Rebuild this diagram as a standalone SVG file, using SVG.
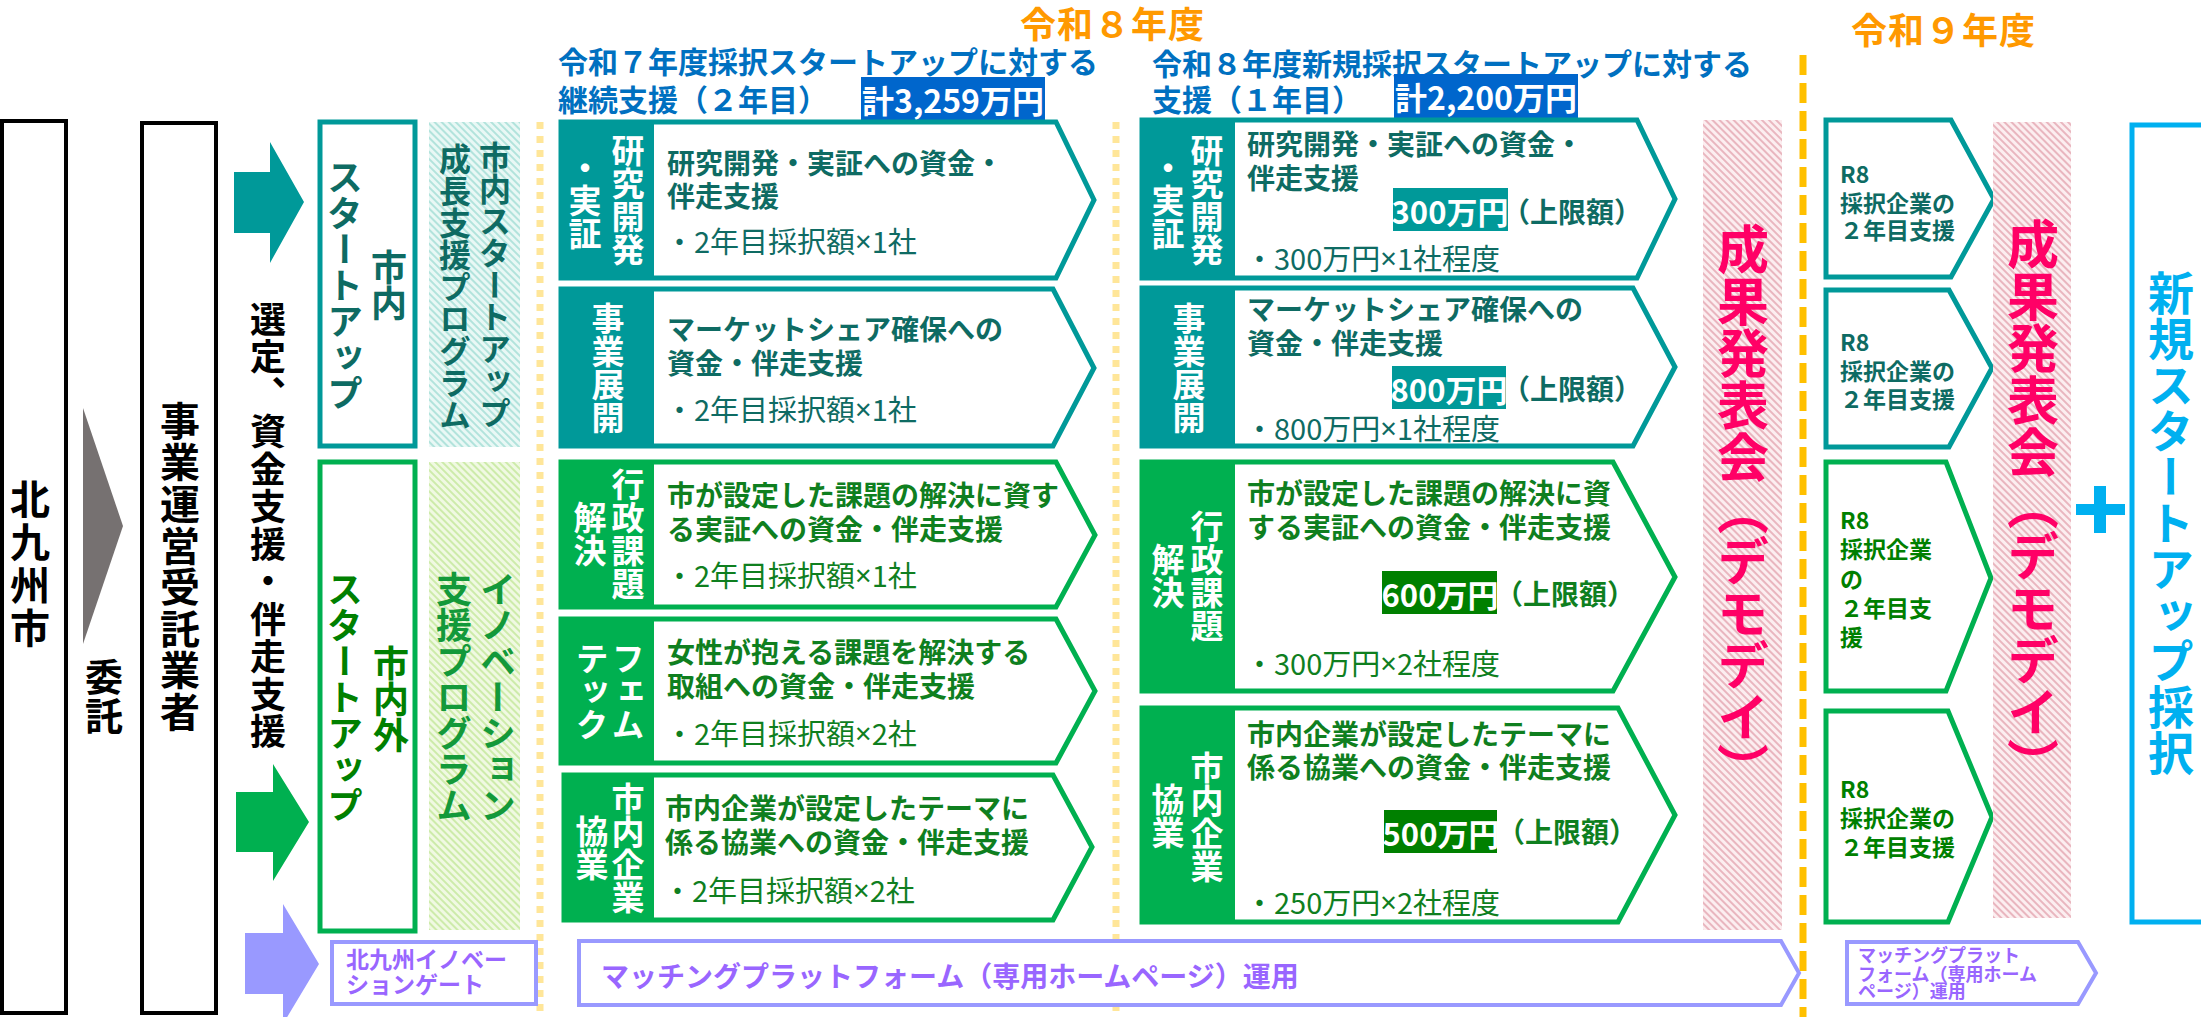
<svg xmlns="http://www.w3.org/2000/svg" width="2201" height="1017" viewBox="0 0 2201 1017">
<defs>
<style>
text{font-family:"Noto Sans CJK JP","Noto Sans CJK SC",sans-serif;font-weight:700;}
.v{writing-mode:vertical-rl;text-anchor:middle;}
.h{dominant-baseline:central;}
.n{font-weight:400;font-size:29px;}
.x{font-family:"Noto Sans",sans-serif;}
.blk{fill:#000;}
.tl{fill:#0E6B63;}
.gr{fill:#0F7F1F;}
.dg{fill:#008000;}
.ig{fill:#13993A;}
.wh{fill:#fff;}
.pu{fill:#9966FF;}
.bl{fill:#0070C0;}
.or{fill:#FF9900;}
.pk{fill:#FF0066;}
.cy{fill:#00B0F0;}
.oT{fill:#fff;stroke:#009999;stroke-width:5;}
.oG{fill:#fff;stroke:#00B050;stroke-width:5;}
.oP{fill:#fff;stroke:#9999FF;stroke-width:4;}
.oK{fill:#fff;stroke:#000;stroke-width:4;}
.fT{fill:#009999;}
.fG{fill:#00B050;}
.fD{fill:#008000;}
.fB{fill:#0066CC;}
.m{font-size:28px;}
.lb{font-size:33px;fill:#fff;}
.r9{font-size:23px;}
</style>
<pattern id="hT" width="5" height="5" patternUnits="userSpaceOnUse" patternTransform="rotate(-45)"><rect width="5" height="5" fill="#E9F8F5"/><rect width="2" height="5" fill="#B2E3DC"/></pattern>
<pattern id="hG" width="5" height="5" patternUnits="userSpaceOnUse" patternTransform="rotate(-45)"><rect width="5" height="5" fill="#F0F9E2"/><rect width="2" height="5" fill="#CDEBAA"/></pattern>
<pattern id="hP" width="5" height="5" patternUnits="userSpaceOnUse" patternTransform="rotate(-45)"><rect width="5" height="5" fill="#FCEEF0"/><rect width="2" height="5" fill="#E9B6BF"/></pattern>
</defs>
<rect width="2201" height="1017" fill="#fff"/>

<!-- headers -->
<g id="headers">
<text class="h or" x="1020" y="22" font-size="36" letter-spacing="1">令和８年度</text>
<text class="h or" x="1851" y="28" font-size="36" letter-spacing="1">令和９年度</text>
<text class="h bl" x="558" y="60" font-size="30">令和７年度採択スタートアップに対する</text>
<text class="h bl" x="558" y="98" font-size="30">継続支援（２年目）</text>
<rect class="fB" x="861" y="77" width="184" height="43"/>
<text class="h wh" x="953" y="99" font-size="32" text-anchor="middle">計3,259万円</text>
<text class="h bl" x="1152" y="62" font-size="30">令和８年度新規採択スタートアップに対する</text>
<text class="h bl" x="1152" y="98" font-size="30">支援（１年目）</text>
<rect class="fB" x="1394" y="74" width="184" height="44"/>
<text class="h wh" x="1486" y="96" font-size="32" text-anchor="middle">計2,200万円</text>
</g>

<!-- separators -->
<g id="separators">
<line x1="540" y1="122" x2="540" y2="1017" stroke="#FFE699" stroke-width="7" stroke-dasharray="7 7"/>
<line x1="1116" y1="122" x2="1116" y2="1017" stroke="#FFE699" stroke-width="7" stroke-dasharray="7 7"/>
<line x1="1803" y1="55" x2="1803" y2="1017" stroke="#FFC000" stroke-width="7" stroke-dasharray="20 8"/>
</g>

<!-- left side -->
<g id="kitakyushu">
<rect class="oK" x="2" y="121" width="64" height="892"/>
<text class="v blk" x="30" y="565" font-size="40" letter-spacing="3">北九州市</text>
</g>
<g id="itaku">
<polygon points="83,408 123,526 83,644" fill="#767171"/>
<text class="v blk" x="104" y="697" font-size="38" letter-spacing="1">委託</text>
</g>
<g id="jigyo">
<rect class="oK" x="142" y="123" width="74" height="890"/>
<text class="v blk" x="180" y="567" font-size="40" letter-spacing="1.6">事業運営受託業者</text>
</g>
<g id="sentei">
<text class="v blk" x="268" y="526" font-size="36" letter-spacing="1.5">選定、資金支援・伴走支援</text>
</g>

<g id="connectors">
<polygon points="234,172 270,172 270,142 304,202 270,263 270,233 234,233" fill="#009999"/>
<polygon points="236,792 273,792 273,764 309,822 273,881 273,852 236,852" fill="#00B050"/>
<polygon points="245,933 283,933 283,904 319,964 283,1024 283,994 245,994" fill="#9999FF"/>
</g>

<g id="shinai">
<rect class="oT" x="320" y="122" width="95" height="324"/>
<text class="v tl" x="389" y="285" font-size="36">市内</text>
<text class="v tl" x="345" y="285" font-size="36">スタートアップ</text>
</g>
<g id="shinaigai">
<rect class="oG" x="320" y="462" width="95" height="469"/>
<text class="v dg" x="391" y="699" font-size="36">市内外</text>
<text class="v dg" x="345" y="697" font-size="36">スタートアップ</text>
</g>
<g id="seicho">
<rect x="429" y="122" width="91" height="325" fill="url(#hT)"/>
<text class="v tl" x="495" y="285" font-size="32">市内スタートアップ</text>
<text class="v tl" x="455" y="287" font-size="32">成長支援プログラム</text>
</g>
<g id="innovation">
<rect x="429" y="462" width="91" height="468" fill="url(#hG)"/>
<text class="v ig" x="498" y="697" font-size="36">イノベーション</text>
<text class="v ig" x="454" y="697" font-size="36">支援プログラム</text>
</g>
<g id="gate">
<rect class="oP" x="332" y="942" width="204" height="62"/>
<text class="h pu" x="346" y="958" font-size="23">北九州イノベー</text>
<text class="h pu" x="346" y="983" font-size="23">ションゲート</text>
</g>

<!-- R7 column -->
<g id="r7-kenkyu">
<path class="oT" d="M561,122 H1056 L1094,200 L1056,278 H561 Z"/>
<rect class="fT" x="561" y="122" width="93" height="156"/>
<text class="v lb" x="628" y="200">研究開発</text>
<text class="v lb" x="585" y="200">・実証</text>
<text class="h m tl" x="667" y="162">研究開発・実証への資金・</text>
<text class="h m tl" x="667" y="195">伴走支援</text>
<text class="h tl n" x="665" y="240">・2年目採択額<tspan class="x">×</tspan>1社</text>
</g>
<g id="r7-jigyo">
<path class="oT" d="M561,289 H1053 L1094,368 L1053,446 H561 Z"/>
<rect class="fT" x="561" y="289" width="93" height="157"/>
<text class="v lb" x="608" y="368">事業展開</text>
<text class="h m tl" x="667" y="328">マーケットシェア確保への</text>
<text class="h m tl" x="667" y="362">資金・伴走支援</text>
<text class="h tl n" x="665" y="408">・2年目採択額<tspan class="x">×</tspan>1社</text>
</g>
<g id="r7-gyosei">
<path class="oG" d="M561,462 H1056 L1095,535 L1056,607 H561 Z"/>
<rect class="fG" x="561" y="462" width="93" height="145"/>
<text class="v lb" x="628" y="534">行政課題</text>
<text class="v lb" x="590" y="534">解決</text>
<text class="h m gr" x="667" y="494">市が設定した課題の解決に資す</text>
<text class="h m gr" x="667" y="528">る実証への資金・伴走支援</text>
<text class="h gr n" x="665" y="574">・2年目採択額<tspan class="x">×</tspan>1社</text>
</g>
<g id="r7-femtech">
<path class="oG" d="M561,619 H1056 L1095,691 L1056,763 H561 Z"/>
<rect class="fG" x="561" y="619" width="93" height="144"/>
<text class="v lb" x="628" y="691">フェム</text>
<text class="v lb" x="592" y="691">テック</text>
<text class="h m gr" x="667" y="651">女性が抱える課題を解決する</text>
<text class="h m gr" x="667" y="685">取組への資金・伴走支援</text>
<text class="h gr n" x="665" y="732">・2年目採択額<tspan class="x">×</tspan>2社</text>
</g>
<g id="r7-kyogyo">
<path class="oG" d="M564,775 H1053 L1092,847 L1053,920 H564 Z"/>
<rect class="fG" x="564" y="775" width="90" height="145"/>
<text class="v lb" x="628" y="848">市内企業</text>
<text class="v lb" x="592" y="848">協業</text>
<text class="h m gr" x="665" y="807">市内企業が設定したテーマに</text>
<text class="h m gr" x="665" y="841">係る協業への資金・伴走支援</text>
<text class="h gr n" x="663" y="889">・2年目採択額<tspan class="x">×</tspan>2社</text>
</g>
<g id="r7-matching">
<path class="oP" d="M579,941 H1781 L1799,973 L1781,1005 H579 Z"/>
<text class="h pu" x="601" y="975" font-size="28">マッチングプラットフォーム（専用ホームページ）運用</text>
</g>

<!-- R8 column -->
<g id="r8-kenkyu">
<path class="oT" d="M1142,120 H1637 L1675,199 L1637,278 H1142 Z"/>
<rect class="fT" x="1142" y="120" width="93" height="158"/>
<text class="v lb" x="1207" y="200">研究開発</text>
<text class="v lb" x="1168" y="200">・実証</text>
<text class="h m tl" x="1247" y="143">研究開発・実証への資金・</text>
<text class="h m tl" x="1247" y="177">伴走支援</text>
<rect class="fT" x="1393" y="188" width="115" height="43"/>
<text class="h wh" x="1450" y="210" font-size="31" text-anchor="middle">300万円</text>
<text class="h m tl" x="1502" y="211">（上限額）</text>
<text class="h tl n" x="1245" y="257">・300万円<tspan class="x">×</tspan>1社程度</text>
</g>
<g id="r8-jigyo">
<path class="oT" d="M1142,288 H1633 L1675,367 L1633,446 H1142 Z"/>
<rect class="fT" x="1142" y="288" width="93" height="158"/>
<text class="v lb" x="1189" y="368">事業展開</text>
<text class="h m tl" x="1247" y="308">マーケットシェア確保への</text>
<text class="h m tl" x="1247" y="342">資金・伴走支援</text>
<rect class="fT" x="1392" y="366" width="114" height="43"/>
<text class="h wh" x="1449" y="388" font-size="31" text-anchor="middle">800万円</text>
<text class="h m tl" x="1502" y="388">（上限額）</text>
<text class="h tl n" x="1245" y="427">・800万円<tspan class="x">×</tspan>1社程度</text>
</g>
<g id="r8-gyosei">
<path class="oG" d="M1142,462 H1613 L1675,577 L1613,691 H1142 Z"/>
<rect class="fG" x="1142" y="462" width="93" height="229"/>
<text class="v lb" x="1207" y="576">行政課題</text>
<text class="v lb" x="1168" y="576">解決</text>
<text class="h m gr" x="1247" y="492">市が設定した課題の解決に資</text>
<text class="h m gr" x="1247" y="526">する実証への資金・伴走支援</text>
<rect class="fD" x="1382" y="571" width="115" height="43"/>
<text class="h wh" x="1440" y="593" font-size="31" text-anchor="middle">600万円</text>
<text class="h m gr" x="1495" y="593">（上限額）</text>
<text class="h gr n" x="1245" y="662">・300万円<tspan class="x">×</tspan>2社程度</text>
</g>
<g id="r8-kyogyo">
<path class="oG" d="M1142,708 H1618 L1675,815 L1618,922 H1142 Z"/>
<rect class="fG" x="1142" y="708" width="93" height="214"/>
<text class="v lb" x="1207" y="817">市内企業</text>
<text class="v lb" x="1168" y="816">協業</text>
<text class="h m gr" x="1247" y="733">市内企業が設定したテーマに</text>
<text class="h m gr" x="1247" y="766">係る協業への資金・伴走支援</text>
<rect class="fD" x="1384" y="810" width="113" height="43"/>
<text class="h wh" x="1441" y="832" font-size="31" text-anchor="middle">500万円</text>
<text class="h m gr" x="1497" y="831">（上限額）</text>
<text class="h gr n" x="1245" y="901">・250万円<tspan class="x">×</tspan>2社程度</text>
</g>
<g id="demoday1">
<rect x="1703" y="120" width="79" height="810" fill="url(#hP)"/>
<text class="v pk" x="1743" y="509" font-size="52">成果発表会（デモデイ）</text>
</g>

<!-- R9 column -->
<g id="r9-1">
<path class="oT" d="M1826,120 H1951 L1994,199 L1951,277 H1826 Z"/>
<text class="h r9 tl" x="1840" y="173">R8</text>
<text class="h r9 tl" x="1840" y="202">採択企業の</text>
<text class="h r9 tl" x="1840" y="229">２年目支援</text>
</g>
<g id="r9-2">
<path class="oT" d="M1826,290 H1949 L1992,368 L1949,447 H1826 Z"/>
<text class="h r9 tl" x="1840" y="341">R8</text>
<text class="h r9 tl" x="1840" y="370">採択企業の</text>
<text class="h r9 tl" x="1840" y="398">２年目支援</text>
</g>
<g id="r9-3">
<path class="oG" d="M1826,462 H1946 L1991,578 L1946,691 H1826 Z"/>
<text class="h r9 dg" x="1840" y="519">R8</text>
<text class="h r9 dg" x="1840" y="548">採択企業</text>
<text class="h r9 dg" x="1840" y="578">の</text>
<text class="h r9 dg" x="1840" y="607">２年目支</text>
<text class="h r9 dg" x="1840" y="636">援</text>
</g>
<g id="r9-4">
<path class="oG" d="M1826,711 H1948 L1992,817 L1948,922 H1826 Z"/>
<text class="h r9 dg" x="1840" y="788">R8</text>
<text class="h r9 dg" x="1840" y="817">採択企業の</text>
<text class="h r9 dg" x="1840" y="846">２年目支援</text>
</g>
<g id="demoday2">
<rect x="1993" y="122" width="78" height="796" fill="url(#hP)"/>
<text class="v pk" x="2033" y="504" font-size="52">成果発表会（デモデイ）</text>
</g>
<g id="plus">
<rect class="cy" x="2076" y="504" width="49" height="11"/>
<rect class="cy" x="2094" y="486" width="12" height="47"/>
</g>
<g id="shinki">
<rect x="2132" y="125" width="90" height="797" fill="#fff" stroke="#00B0F0" stroke-width="5"/>
<text class="v cy" x="2171" y="523" font-size="46">新規スタートアップ採択</text>
</g>
<g id="r9-matching">
<path class="oP" d="M1847,942 H2078 L2096,973 L2078,1004 H1847 Z"/>
<text class="h pu" x="1858" y="954" font-size="18">マッチングプラット</text>
<text class="h pu" x="1858" y="973" font-size="18">フォーム（専用ホーム</text>
<text class="h pu" x="1858" y="990" font-size="18">ページ）運用</text>
</g>
</svg>
